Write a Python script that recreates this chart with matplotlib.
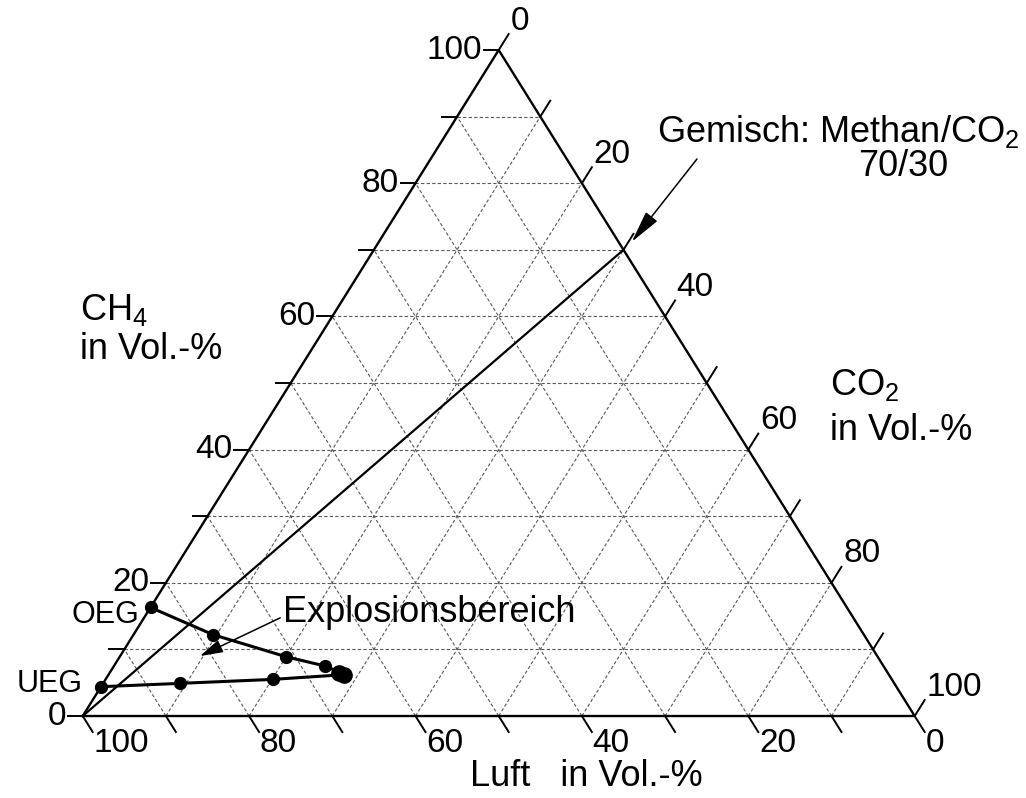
import matplotlib
matplotlib.use("Agg")
import matplotlib.pyplot as plt
import numpy as np

plt.rcParams["font.family"] = ["Liberation Sans", "DejaVu Sans"]
plt.rcParams["mathtext.default"] = "regular"

# explosion range of methan in air with CO2 added, (CO2 %, CH4 %)
oeg_co2 = [0, 9.6, 20.0, 25.4, 27.5, 28.2]
oeg_ch4 = [16.3, 12.2, 8.9, 7.5, 6.6, 6.2]
ueg_co2 = [28.2, 20.1, 9.2, 0]
ueg_ch4 = [6.2, 5.5, 4.9, 4.4]
nose_co2 = [27.6, 28.4]
nose_ch4 = [6.5, 6.1]

# mixture Methan/CO2 70/30 -> straight line to pure air
mix_co2 = [0, 30]
mix_ch4 = [0, 70]

tick_vals = np.arange(0, 101, 10)
label_vals = [0, 20, 40, 60, 80, 100]

FS_TICK = 24
FS_TXT = 26


def tern(co2, ch4):
    co2 = np.asarray(co2, dtype=float)
    ch4 = np.asarray(ch4, dtype=float)
    return co2 + ch4 / 2, ch4


fig = plt.figure(figsize=(10.26, 7.98), dpi=100)
ax = fig.add_axes([0, 0, 1, 1])
ax.set_xlim(-9.94, 113.38)
ax.set_ylim(-12.31, 107.51)
ax.axis("off")

# grid
for v in tick_vals[1:-1]:
    kw = dict(color="0.35", lw=0.8, ls=(0, (3, 2)), zorder=1)
    ax.plot(*tern([0, 100 - v], [v, v]), **kw)
    ax.plot(*tern([v, v], [0, 100 - v]), **kw)
    ax.plot(*tern([100 - v, 0], [0, 100 - v]), **kw)

# triangle
ax.plot(*tern([0, 100, 0, 0], [0, 0, 100, 0]), color="k", lw=1.7, zorder=2)

# ticks
tl = 2.4
for v in tick_vals:
    x0, y0 = tern(0, v)
    ax.plot([x0, x0 - 1.8], [y0, y0], color="k", lw=1.4)
    x1, y1 = tern(v, 100 - v)
    ax.plot([x1, x1 + tl / 2], [y1, y1 + tl], color="k", lw=1.4)
    x2, y2 = tern(100 - v, 0)
    ax.plot([x2, x2 + tl / 2], [y2, y2 - tl], color="k", lw=1.4)
    if v in label_vals:
        ax.text(x0 - 2.0, y0, str(v), ha="right", va="center", fontsize=FS_TICK)
        ax.text(x1 + tl / 2 + 0.2, y1 + tl - 0.4, str(v), ha="left", va="bottom", fontsize=FS_TICK)
        ax.text(x2 + tl / 2 + 0.1, y2 - tl + 0.6, str(v), ha="left", va="top", fontsize=FS_TICK)

# mixture line
ax.plot(*tern(mix_co2, mix_ch4), color="k", lw=1.6, zorder=3)

# explosion range
ax.plot(*tern(oeg_co2, oeg_ch4), color="k", lw=2.2, marker="o", ms=8.5, zorder=4)
ax.plot(*tern(ueg_co2, ueg_ch4), color="k", lw=2.2, marker="o", ms=8.5, zorder=4)
ax.plot(*tern(nose_co2, nose_ch4), "o", color="k", ms=11, zorder=4)

ax.text(*np.add(tern(0, oeg_ch4[0]), (-1.4, -1.2)), "OEG", ha="right", va="center", fontsize=22)
ax.text(*np.add(tern(0, ueg_ch4[-1]), (-2.2, 0.4)), "UEG", ha="right", va="center", fontsize=22)

ax.annotate("Explosionsbereich", xy=tern(9.6, 9.0), xytext=(283 / 1026, 1 - 613 / 798),
            textcoords="figure fraction", ha="left", va="center", fontsize=FS_TXT,
            arrowprops=dict(arrowstyle="-|>,head_length=1.4,head_width=0.4", color="k", lw=1.1,
                            mutation_scale=10, shrinkA=0, shrinkB=0, relpos=(0, 0.4)))

ax.annotate("", xy=tern(30.4, 71.2), xytext=(697 / 1026, 1 - 159 / 798),
            textcoords="figure fraction",
            arrowprops=dict(arrowstyle="-|>,head_length=2.0,head_width=0.45", color="k", lw=1.1,
                            mutation_scale=10, shrinkA=0, shrinkB=0))
fig.text(657 / 1026, 1 - 131 / 798, "Gemisch: Methan/CO$_2$", ha="left", va="center", fontsize=FS_TXT)
fig.text(903 / 1026, 1 - 166 / 798, "70/30", ha="center", va="center", fontsize=FS_TXT)

fig.text(80 / 1026, 1 - 310 / 798, "CH$_4$", ha="left", va="center", fontsize=FS_TXT)
fig.text(80 / 1026, 1 - 349 / 798, "in Vol.-%", ha="left", va="center", fontsize=FS_TXT)
fig.text(830 / 1026, 1 - 385 / 798, "CO$_2$", ha="left", va="center", fontsize=FS_TXT)
fig.text(830 / 1026, 1 - 431 / 798, "in Vol.-%", ha="left", va="center", fontsize=FS_TXT)
fig.text(470 / 1026, 1 - 777 / 798, "Luft   in Vol.-%", ha="left", va="center", fontsize=FS_TXT)

fig.savefig("out.png", dpi=100)
